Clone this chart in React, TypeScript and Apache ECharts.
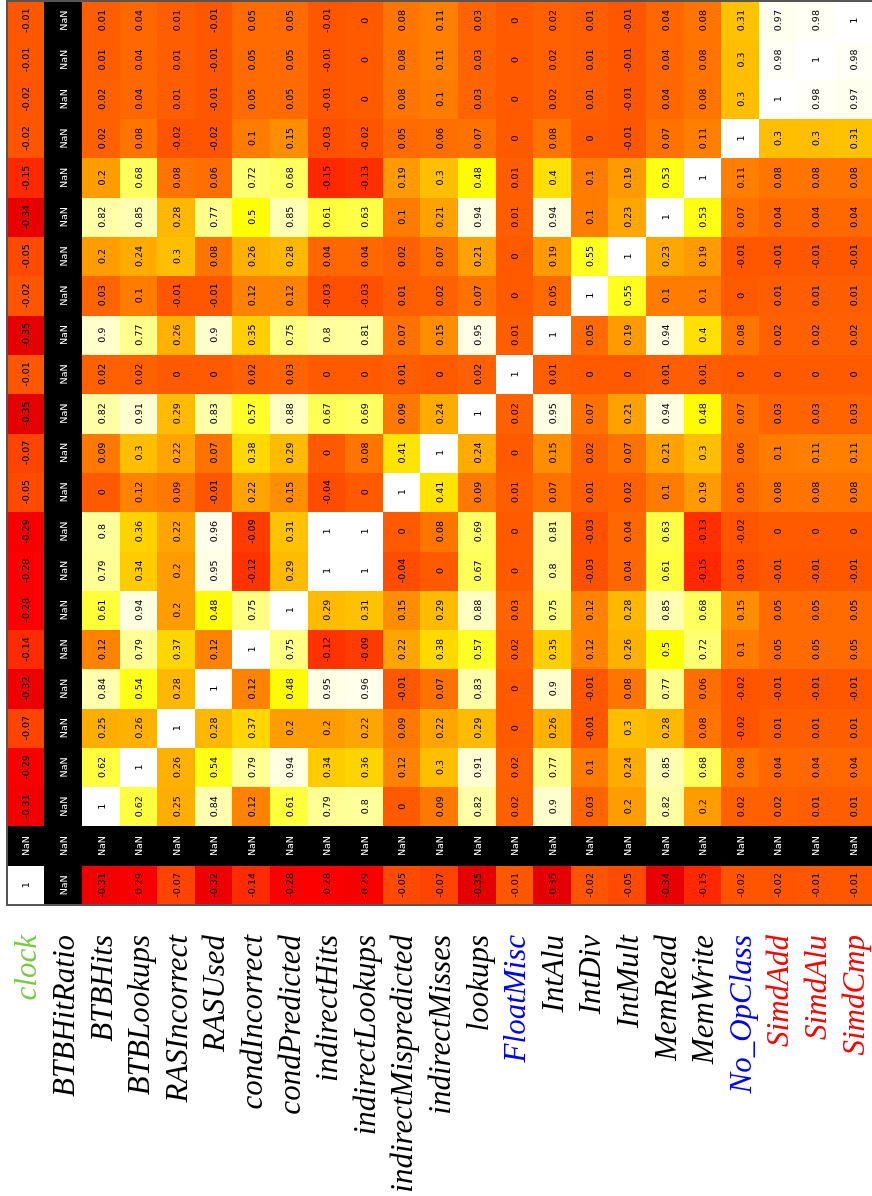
import React, { useEffect, useRef } from 'react';
import * as echarts from 'echarts';

const variables = [
  'clock', 'BTBHitRatio', 'BTBHits', 'BTBLookups', 'RASIncorrect', 'RASUsed',
  'condIncorrect', 'condPredicted', 'indirectHits', 'indirectLookups',
  'indirectMispredicted', 'indirectMisses', 'lookups', 'FloatMisc', 'IntAlu',
  'IntDiv', 'IntMult', 'MemRead', 'MemWrite', 'No_OpClass', 'SimdAdd', 'SimdAlu', 'SimdCmp',
];

const labelColors: Record<string, string> = {
  clock: '#7ac943',
  FloatMisc: '#0000ff',
  No_OpClass: '#0000ff',
  SimdAdd: '#ff0000',
  SimdAlu: '#ff0000',
  SimdCmp: '#ff0000',
};

const N = NaN;
const rowClock = [1, N, -0.31, -0.29, -0.07, -0.32, -0.14, -0.28, -0.28, -0.29, -0.05, -0.07, -0.35, -0.01, -0.35, -0.02, -0.05, -0.34, -0.15, -0.02, -0.02, -0.01, -0.01];
const rowBTBHitRatio = [N, N, N, N, N, N, N, N, N, N, N, N, N, N, N, N, N, N, N, N, N, N, N];
const rowBTBHits = [-0.31, N, 1, 0.62, 0.25, 0.84, 0.12, 0.61, 0.79, 0.8, 0, 0.09, 0.82, 0.02, 0.9, 0.03, 0.2, 0.82, 0.2, 0.02, 0.02, 0.01, 0.01];
const rowBTBLookups = [-0.29, N, 0.62, 1, 0.26, 0.54, 0.79, 0.94, 0.34, 0.36, 0.12, 0.3, 0.91, 0.02, 0.77, 0.1, 0.24, 0.85, 0.68, 0.08, 0.04, 0.04, 0.04];
const rowRASIncorrect = [-0.07, N, 0.25, 0.26, 1, 0.28, 0.37, 0.2, 0.2, 0.22, 0.09, 0.22, 0.29, 0, 0.26, -0.01, 0.3, 0.28, 0.08, -0.02, 0.01, 0.01, 0.01];
const rowRASUsed = [-0.32, N, 0.84, 0.54, 0.28, 1, 0.12, 0.48, 0.95, 0.96, -0.01, 0.07, 0.83, 0, 0.9, -0.01, 0.08, 0.77, 0.06, -0.02, -0.01, -0.01, -0.01];
const rowCondIncorrect = [-0.14, N, 0.12, 0.79, 0.37, 0.12, 1, 0.75, -0.12, -0.09, 0.22, 0.38, 0.57, 0.02, 0.35, 0.12, 0.26, 0.5, 0.72, 0.1, 0.05, 0.05, 0.05];
const rowCondPredicted = [-0.28, N, 0.61, 0.94, 0.2, 0.48, 0.75, 1, 0.29, 0.31, 0.15, 0.29, 0.88, 0.03, 0.75, 0.12, 0.28, 0.85, 0.68, 0.15, 0.05, 0.05, 0.05];
const rowIndirectHits = [-0.28, N, 0.79, 0.34, 0.2, 0.95, -0.12, 0.29, 1, 1, -0.04, 0, 0.67, 0, 0.8, -0.03, 0.04, 0.61, -0.15, -0.03, -0.01, -0.01, -0.01];
const rowIndirectLookups = [-0.29, N, 0.8, 0.36, 0.22, 0.96, -0.09, 0.31, 1, 1, 0, 0.08, 0.69, 0, 0.81, -0.03, 0.04, 0.63, -0.13, -0.02, 0, 0, 0];
const rowIndirectMispredicted = [-0.05, N, 0, 0.12, 0.09, -0.01, 0.22, 0.15, -0.04, 0, 1, 0.41, 0.09, 0.01, 0.07, 0.01, 0.02, 0.1, 0.19, 0.05, 0.08, 0.08, 0.08];
const rowIndirectMisses = [-0.07, N, 0.09, 0.3, 0.22, 0.07, 0.38, 0.29, 0, 0.08, 0.41, 1, 0.24, 0, 0.15, 0.02, 0.07, 0.21, 0.3, 0.06, 0.1, 0.11, 0.11];
const rowLookups = [-0.35, N, 0.82, 0.91, 0.29, 0.83, 0.57, 0.88, 0.67, 0.69, 0.09, 0.24, 1, 0.02, 0.95, 0.07, 0.21, 0.94, 0.48, 0.07, 0.03, 0.03, 0.03];
const rowFloatMisc = [-0.01, N, 0.02, 0.02, 0, 0, 0.02, 0.03, 0, 0, 0.01, 0, 0.02, 1, 0.01, 0, 0, 0.01, 0.01, 0, 0, 0, 0];
const rowIntAlu = [-0.35, N, 0.9, 0.77, 0.26, 0.9, 0.35, 0.75, 0.8, 0.81, 0.07, 0.15, 0.95, 0.01, 1, 0.05, 0.19, 0.94, 0.4, 0.08, 0.02, 0.02, 0.02];
const rowIntDiv = [-0.02, N, 0.03, 0.1, -0.01, -0.01, 0.12, 0.12, -0.03, -0.03, 0.01, 0.02, 0.07, 0, 0.05, 1, 0.55, 0.1, 0.1, 0, 0.01, 0.01, 0.01];
const rowIntMult = [-0.05, N, 0.2, 0.24, 0.3, 0.08, 0.26, 0.28, 0.04, 0.04, 0.02, 0.07, 0.21, 0, 0.19, 0.55, 1, 0.23, 0.19, -0.01, -0.01, -0.01, -0.01];
const rowMemRead = [-0.34, N, 0.82, 0.85, 0.28, 0.77, 0.5, 0.85, 0.61, 0.63, 0.1, 0.21, 0.94, 0.01, 0.94, 0.1, 0.23, 1, 0.53, 0.07, 0.04, 0.04, 0.04];
const rowMemWrite = [-0.15, N, 0.2, 0.68, 0.08, 0.06, 0.72, 0.68, -0.15, -0.13, 0.19, 0.3, 0.48, 0.01, 0.4, 0.1, 0.19, 0.53, 1, 0.11, 0.08, 0.08, 0.08];
const rowNoOpClass = [-0.02, N, 0.02, 0.08, -0.02, -0.02, 0.1, 0.15, -0.03, -0.02, 0.05, 0.06, 0.07, 0, 0.08, 0, -0.01, 0.07, 0.11, 1, 0.3, 0.3, 0.31];
const rowSimdAdd = [-0.02, N, 0.02, 0.04, 0.01, -0.01, 0.05, 0.05, -0.01, 0, 0.08, 0.1, 0.03, 0, 0.02, 0.01, -0.01, 0.04, 0.08, 0.3, 1, 0.98, 0.97];
const rowSimdAlu = [-0.01, N, 0.01, 0.04, 0.01, -0.01, 0.05, 0.05, -0.01, 0, 0.08, 0.11, 0.03, 0, 0.02, 0.01, -0.01, 0.04, 0.08, 0.3, 0.98, 1, 0.98];
const rowSimdCmp = [-0.01, N, 0.01, 0.04, 0.01, -0.01, 0.05, 0.05, -0.01, 0, 0.08, 0.11, 0.03, 0, 0.02, 0.01, -0.01, 0.04, 0.08, 0.31, 0.97, 0.98, 1];

const rows = [
  rowClock, rowBTBHitRatio, rowBTBHits, rowBTBLookups, rowRASIncorrect, rowRASUsed,
  rowCondIncorrect, rowCondPredicted, rowIndirectHits, rowIndirectLookups,
  rowIndirectMispredicted, rowIndirectMisses, rowLookups, rowFloatMisc, rowIntAlu,
  rowIntDiv, rowIntMult, rowMemRead, rowMemWrite, rowNoOpClass, rowSimdAdd, rowSimdAlu, rowSimdCmp,
];

// matplotlib "hot" colormap
function hot(t: number): string {
  const lerp = (x: number, x0: number, x1: number, y0: number, y1: number) =>
    x <= x0 ? y0 : x >= x1 ? y1 : y0 + ((x - x0) / (x1 - x0)) * (y1 - y0);
  const r = lerp(t, 0, 0.365079, 0.0416, 1);
  const g = lerp(t, 0.365079, 0.746032, 0, 1);
  const b = lerp(t, 0.746032, 1, 0, 1);
  const h = (v: number) => Math.round(v * 255).toString(16).padStart(2, '0');
  return '#' + h(r) + h(g) + h(b);
}

export default function App() {
  const ref = useRef<HTMLDivElement>(null);
  useEffect(() => {
    if (!ref.current) return;
    const chart = echarts.init(ref.current, null, { renderer: 'svg' });
    const valueData: number[][] = [];
    const nanData: number[][] = [];
    rows.forEach((row, j) =>
      row.forEach((v, i) => {
        if (Number.isNaN(v)) nanData.push([i, j, 0]);
        else valueData.push([i, j, v]);
      })
    );
    const stops: string[] = [];
    for (let k = 0; k <= 200; k++) stops.push(hot(k / 200));

    chart.setOption({
      animation: false,
      grid: { left: 7, top: 1, width: 867, height: 904 },
      xAxis: {
        type: 'category',
        data: variables.map((n) => ({ value: n, textStyle: { color: labelColors[n] || '#000' } })),
        axisLabel: {
          rotate: 90,
          margin: 30,
          interval: 0,
          fontSize: 31,
          fontFamily: 'Liberation Serif',
          fontStyle: 'italic',
        },
        axisTick: { show: false },
        axisLine: { show: false },
        splitLine: { show: false },
      },
      yAxis: {
        type: 'category',
        data: variables,
        axisLabel: { show: false },
        axisTick: { show: false },
        axisLine: { show: false },
        splitLine: { show: false },
      },
      visualMap: [
        {
          type: 'continuous',
          min: -1,
          max: 1,
          show: false,
          seriesIndex: 0,
          inRange: { color: stops },
        },
        {
          type: 'continuous',
          min: -1,
          max: 1,
          show: false,
          seriesIndex: 1,
          inRange: { color: ['#000000', '#000000'] },
        },
      ],
      series: [
        {
          type: 'heatmap',
          data: valueData,
          label: {
            show: true,
            rotate: 90,
            fontSize: 9.5,
            fontFamily: 'DejaVu Sans',
            color: '#000',
            formatter: (p: any) => String(p.value[2]),
          },
          itemStyle: { borderWidth: 0 },
        },
        {
          type: 'heatmap',
          data: nanData,
          itemStyle: { borderWidth: 0 },
          label: {
            show: true,
            rotate: 90,
            fontSize: 9.5,
            fontFamily: 'DejaVu Sans',
            color: '#fff',
            formatter: 'NaN',
          },
        },
      ],
      graphic: [
        {
          type: 'rect',
          z: 100,
          shape: { x: 7, y: 1, width: 867, height: 904 },
          style: { fill: 'none', stroke: '#555', lineWidth: 1.2 },
        },
      ],
    });
    return () => chart.dispose();
  }, []);
  return (
    <>
      <style>{'#heatmap-chart path { shape-rendering: crispEdges; }'}</style>
      <div
        id="heatmap-chart"
        ref={ref}
        style={{ position: 'fixed', left: 0, top: 0, width: 872, height: 1196 }}
      />
    </>
  );
}
